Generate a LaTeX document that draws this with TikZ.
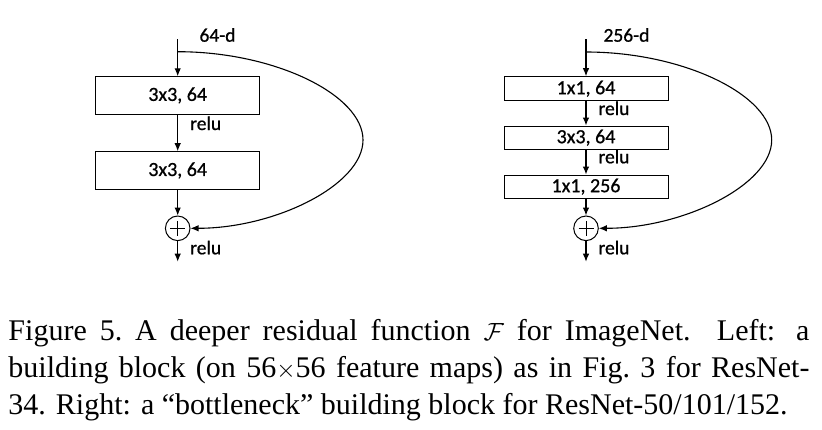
\documentclass[tikz,border=0pt]{standalone}
\usepackage{fontspec}
\setmainfont{Liberation Serif}
\newfontfamily\blockfont[FakeBold=0.8]{Carlito}
\usepackage{tikz}
\usetikzlibrary{calc}
\usetikzlibrary{arrows.meta}

\tikzset{
  layer/.style={draw,line width=1pt,minimum width=164pt,inner sep=0pt,
    font=\blockfont\fontsize{20}{22}\selectfont},
  adder/.style={draw,circle,line width=1pt,minimum size=24.6pt,inner sep=0pt},
  flow/.style={line width=1.1pt,-{Latex[length=8pt,width=6.5pt]}},
  tag/.style={anchor=base west,inner sep=0pt,font=\blockfont\fontsize{19.5}{21}\selectfont},
}

\begin{document}
\begin{tikzpicture}[x=1pt,y=-1pt]
            \useasboundingbox (0,0) rectangle (822,429);

            % Define the positions of the two columns
            \def\xl{177.7}  % left column
            \def\xr{586}    % right column

            % Left: building block
            \coordinate (L0) at (\xl,39);
            \coordinate (Ls) at (\xl,51.7);
            \node[layer,minimum height=37.3pt] (L1) at (\xl,95.4) {3x3, 64};
            \node[layer,minimum height=37.6pt] (L2) at (\xl,170.5) {3x3, 64};
            \node[adder] (Lsum) at (\xl,228.3) {};
            \coordinate (Lout) at (\xl,261.7);

            % Right: bottleneck block
            \coordinate (R0) at (\xr,39);
            \coordinate (Rs) at (\xr,52);
            \node[layer,minimum height=24pt] (R1) at (\xr,88.7) {1x1, 64};
            \node[layer,minimum height=23.3pt] (R2) at (\xr,137.7) {3x3, 64};
            \node[layer,minimum height=23.3pt] (R3) at (\xr,186.7) {1x1, 256};
            \node[adder] (Rsum) at (\xr,228.3) {};
            \coordinate (Rout) at (\xr,261.7);

            % Draw the main paths
            \draw[flow] (L0) -- (L1);
            \draw[flow] (L1) -- (L2);
            \draw[flow] (L2) -- (Lsum);
            \draw[flow] (Lsum) -- (Lout);
            \draw[flow] (R0) -- (R1);
            \draw[flow] (R1) -- (R2);
            \draw[flow] (R2) -- (R3);
            \draw[flow] (R3) -- (Rsum);
            \draw[flow] (Rsum) -- (Rout);

            % Draw the shortcuts
            \draw[flow] (Ls) .. controls (275,51.7) and (363,95) .. (363,140)
                .. controls (363,185) and (275,228.3) .. (Lsum.east);
            \draw[flow] (Rs) .. controls (683,52) and (771.7,95) .. (771.7,140)
                .. controls (771.7,185) and (683,228.3) .. (Rsum.east);

            % Draw the plus signs
            \foreach \s in {Lsum,Rsum} {
                \draw[line width=1pt] ($(\s.center)+(-7.5,0)$) -- ($(\s.center)+(7.5,0)$);
                \draw[line width=1pt] ($(\s.center)+(0,-7.5)$) -- ($(\s.center)+(0,7.5)$);
            }

            % Draw the labels
            \node[tag] (Ld) at (199.3,41.7) {64-d};
            \node[tag] (Lr1) at (190,130) {relu};
            \node[tag] (Lr2) at (190,254.3) {relu};
            \node[tag] (Rd) at (603.3,41.7) {256-d};
            \node[tag] (Rr1) at (598.3,115) {relu};
            \node[tag] (Rr2) at (598.3,163.3) {relu};
            \node[tag] (Rr3) at (598.3,254.3) {relu};

            % Draw the caption
            \node[anchor=north west,inner sep=0pt,text width=801pt,align=justify,
                font=\fontsize{30}{37}\selectfont] (caption) at (8.3,318.8)
                {Figure 5.\ A deeper residual function $\mathcal{F}$ for ImageNet. Left: a\linebreak
                 building block (on 56$\times$56 feature maps) as in Fig.~3 for ResNet-\linebreak
                 34. Right: a ``bottleneck'' building block for ResNet-50/101/152.};
\end{tikzpicture}
\end{document}
